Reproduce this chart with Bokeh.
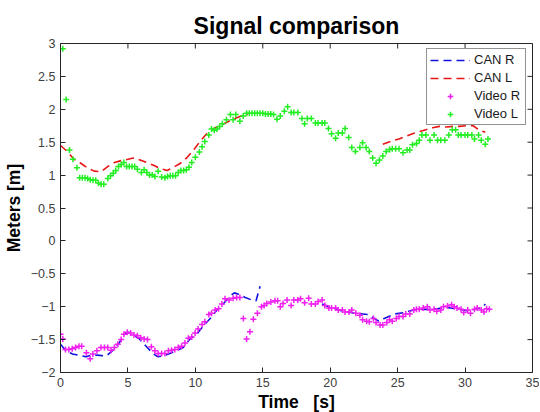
import numpy as np
from bokeh.plotting import figure
from bokeh.models import Range1d, Legend, LegendItem, FixedTicker, Title
from bokeh.embed import file_html
from bokeh.resources import INLINE

nan = float("nan")

# CAN L (red dashed), gap between segments marked by nan
can_l_t = [0.0, 0.5, 1.0, 1.5, 2.0, 2.5, 3.0, 3.5, 4.0, 4.5, 5.0, 5.4, 5.9, 6.4, 6.9, 7.4, 7.9, 8.4, 8.9,
           9.4, 9.9, 10.3, 10.8, 11.3, 11.8, 12.3, 12.8, 13.3, 13.9, nan,
           23.9, 24.6, 25.1, 25.6, 26.1, 26.6, 27.1, 27.6, 28.1, 28.6, 29.1, 29.6, 30.1, 30.6, 31.0, 31.5]
can_l_y = [1.45, 1.36, 1.24, 1.18, 1.11, 1.06, 1.05, 1.13, 1.19, 1.22, 1.24, 1.26, 1.23, 1.19, 1.15, 1.10, 1.07, 1.12, 1.18,
           1.27, 1.39, 1.50, 1.62, 1.70, 1.75, 1.80, 1.85, 1.89, 1.93, nan,
           1.47, 1.52, 1.55, 1.59, 1.63, 1.66, 1.69, 1.72, 1.74, 1.73, 1.74, 1.74, 1.75, 1.75, 1.69, 1.65]

# CAN R (blue dashed)
can_r_t = [0.0, 0.4, 0.9, 1.4, 1.9, 2.4, 2.9, 3.4, 3.9, 4.35, 4.75, 5.0, 5.35, 5.85, 6.35, 6.85, 7.2, 7.6, 8.1,
           8.6, 9.1, 9.6, 10.1, 10.6, 11.1, 11.6, 12.1, 12.6, 12.9, 13.2, 13.7, 14.2, 14.5, 14.8, nan,
           19.4, 20.0, 20.8, 21.8, 22.8, 23.6, 24.0, 24.8, 25.5, 26.2, 27.0, 27.7, 28.6, 29.6, 30.1, 30.8, 31.3, 31.5]
can_r_y = [-1.57, -1.67, -1.72, -1.74, -1.76, -1.73, -1.74, -1.75, -1.66, -1.55, -1.42, -1.39, -1.42, -1.49, -1.60, -1.71, -1.76, -1.75, -1.71,
           -1.67, -1.62, -1.49, -1.42, -1.29, -1.18, -1.05, -0.95, -0.83, -0.79, -0.81, -0.86, -0.90, -0.91, -0.69, nan,
           -0.96, -1.01, -1.06, -1.10, -1.12, -1.22, -1.18, -1.11, -1.09, -1.05, -1.04, -1.04, -1.01, -1.04, -1.06, -1.04, -1.01, -0.96]

# Video L (green markers)
vid_l_t = [0.17, 0.42, 0.67, 0.92, 1.22, 1.42, 1.62, 1.82, 2.01, 2.21, 2.41, 2.61, 2.81, 3.01, 3.21, 3.51, 3.71, 3.91,
           4.10, 4.30, 4.50, 4.70, 4.90, 5.10, 5.30, 5.50, 5.70, 6.00, 6.20, 6.40, 6.60, 6.80, 7.00, 7.24, 7.50, 7.74,
           7.94, 8.14, 8.33, 8.53, 8.73, 8.93, 9.13, 9.33, 9.53, 9.73, 10.0, 10.3, 10.5, 10.7, 11.0, 11.2, 11.4, 11.6,
           11.8, 12.0, 12.3, 12.6, 12.8, 13.0, 13.3, 13.55, 13.8, 14.0, 14.2, 14.4, 14.6, 14.8, 15.0, 15.2, 15.4, 15.6,
           15.8, 16.05, 16.3, 16.6, 16.84, 17.1, 17.3, 17.6, 17.9, 18.1, 18.3, 18.6, 18.9, 19.1, 19.4, 19.6, 19.87,
           20.1, 20.4, 20.6, 20.9, 21.1, 21.37, 21.6, 21.87, 22.2, 22.4, 22.66, 22.9, 23.15, 23.4, 23.65, 23.9, 24.15,
           24.4, 24.6, 24.85, 25.1, 25.4, 25.7, 25.9, 26.1, 26.4, 26.6, 26.8, 27.1, 27.4, 27.7, 27.96, 28.2, 28.5,
           28.8, 29.05, 29.3, 29.5, 29.7, 30.0, 30.2, 30.5, 30.7, 31.0, 31.2, 31.5, 31.7]
vid_l_y = [2.92, 2.15, 1.38, 1.24, 1.11, 0.96, 0.96, 0.96, 0.95, 0.93, 0.92, 0.92, 0.88, 0.86, 0.86, 0.95, 0.99, 1.03,
           1.07, 1.13, 1.16, 1.19, 1.13, 1.13, 1.13, 1.13, 1.09, 1.04, 1.08, 1.04, 1.00, 1.00, 0.98, 1.06, 0.97, 0.96,
           0.98, 0.99, 0.99, 0.99, 1.04, 1.07, 1.07, 1.08, 1.12, 1.19, 1.27, 1.35, 1.43, 1.51, 1.61, 1.70, 1.68, 1.70,
           1.74, 1.78, 1.84, 1.92, 1.84, 1.92, 1.82, 1.90, 1.94, 1.94, 1.94, 1.94, 1.94, 1.94, 1.94, 1.93, 1.93, 1.93,
           1.92, 1.85, 1.90, 1.97, 2.04, 1.95, 1.95, 1.95, 1.86, 1.78, 1.86, 1.86, 1.79, 1.79, 1.79, 1.79, 1.71,
           1.63, 1.56, 1.64, 1.64, 1.71, 1.57, 1.42, 1.36, 1.42, 1.49, 1.42, 1.36, 1.26, 1.18, 1.23, 1.29, 1.36,
           1.39, 1.40, 1.40, 1.40, 1.34, 1.38, 1.38, 1.46, 1.48, 1.53, 1.61, 1.61, 1.53, 1.61, 1.53, 1.53, 1.53,
           1.61, 1.69, 1.69, 1.61, 1.61, 1.61, 1.61, 1.61, 1.55, 1.61, 1.53, 1.47, 1.55]

# Video R (magenta markers)
vid_r_t = [0.0, 0.17, 0.37, 0.62, 0.87, 1.12, 1.37, 1.57, 1.92, 2.2, 2.4, 2.7, 3.0, 3.26, 3.5, 3.76, 4.0, 4.25, 4.5,
           4.7, 4.95, 5.2, 5.45, 5.7, 5.95, 6.2, 6.45, 6.74, 7.0, 7.24, 7.5, 7.74, 8.0, 8.23, 8.48, 8.73, 8.98, 9.23,
           9.48, 9.73, 9.98, 10.2, 10.5, 10.7, 11.0, 11.2, 11.47, 11.72, 11.97, 12.2, 12.5, 12.8, 13.06, 13.3, 13.56,
           13.8, 14.05, 14.3, 14.6, 14.9, 15.1, 15.3, 15.6, 15.9, 16.1, 16.3, 16.5, 16.8, 17.1, 17.3, 17.6, 17.8,
           18.1, 18.4, 18.6, 18.9, 19.1, 19.4, 19.6, 19.9, 20.1, 20.4, 20.6, 20.9, 21.1, 21.4, 21.6, 21.9, 22.2,
           22.4, 22.7, 22.9, 23.2, 23.4, 23.7, 23.9, 24.2, 24.4, 24.6, 24.9, 25.1, 25.4, 25.6, 25.9, 26.2, 26.4,
           26.6, 26.9, 27.2, 27.4, 27.7, 27.9, 28.2, 28.4, 28.7, 29.0, 29.2, 29.4, 29.7, 29.9, 30.2, 30.4, 30.7,
           30.9, 31.2, 31.4, 31.6, 31.8]
vid_r_y = [-1.42, -1.49, -1.65, -1.65, -1.64, -1.62, -1.60, -1.60, -1.70, -1.79, -1.72, -1.67, -1.62, -1.62, -1.62, -1.66, -1.62, -1.57, -1.50,
           -1.42, -1.39, -1.40, -1.43, -1.44, -1.47, -1.49, -1.50, -1.61, -1.67, -1.71, -1.71, -1.71, -1.67, -1.66, -1.65, -1.62, -1.60, -1.55,
           -1.48, -1.46, -1.40, -1.34, -1.27, -1.23, -1.12, -1.10, -1.05, -1.03, -0.96, -0.88, -0.90, -0.87, -0.86, -0.86, -1.18,
           -1.49, -1.38, -1.19, -1.10, -1.00, -0.98, -0.95, -0.93, -0.91, -0.91, -1.00, -0.95, -0.90, -0.98, -0.90, -0.90, -0.88,
           -0.94, -0.87, -0.96, -0.96, -0.92, -0.90, -0.98, -1.02, -1.02, -1.02, -1.05, -1.05, -1.08, -1.08, -1.05, -1.10, -1.13,
           -1.20, -1.22, -1.23, -1.18, -1.24, -1.28, -1.28, -1.24, -1.20, -1.22, -1.18, -1.15, -1.15, -1.11, -1.11, -1.05, -1.04,
           -1.04, -1.02, -1.00, -1.05, -1.04, -1.07, -1.05, -1.00, -0.99, -0.97, -1.00, -1.02, -1.04, -1.09, -1.05, -1.10, -1.04,
           -1.02, -1.05, -1.08, -1.03, -1.04]

x_ticks = [0, 5, 10, 15, 20, 25, 30, 35]
y_ticks = [-2, -1.5, -1, -0.5, 0, 0.5, 1, 1.5, 2, 2.5, 3]
x_min, x_max = 0, 35
y_min, y_max = -2, 3

FONT = "Liberation Sans"
AXC = "#262626"

p = figure(frame_width=472, frame_height=329, output_backend="svg", toolbar_location=None,
           x_range=Range1d(x_min, x_max), y_range=Range1d(y_min, y_max),
           min_border_left=60, min_border_right=7, min_border_top=43, min_border_bottom=40,
           x_axis_label="Time\u00a0\u00a0\u00a0[s]", y_axis_label="Meters [m]")
p.background_fill_color = "white"
p.border_fill_color = "white"
p.outline_line_color = AXC
p.outline_line_width = 1
p.grid.visible = False

p.title = Title(text="Signal comparison", align="center", text_font=FONT,
                text_font_size="23px", text_font_style="bold", text_color="black", standoff=10)

for ax in (p.xaxis[0], p.yaxis[0]):
    ax.axis_label_text_font = FONT
    ax.axis_label_text_font_size = "17.5px"
    ax.axis_label_text_font_style = "bold"
    ax.axis_label_text_color = "black"
    ax.major_label_text_font = FONT
    ax.major_label_text_font_size = "12.5px"
    ax.major_label_text_color = "#404040"
    ax.major_tick_in = 5
    ax.major_tick_out = 0
    ax.minor_tick_line_color = None
    ax.axis_line_color = AXC
    ax.major_tick_line_color = AXC
p.xaxis[0].ticker = FixedTicker(ticks=x_ticks)
p.yaxis[0].ticker = FixedTicker(ticks=y_ticks)
p.xaxis[0].major_label_standoff = 5
p.xaxis[0].axis_label_standoff = 2
p.yaxis[0].major_label_standoff = 5
p.yaxis[0].axis_label_standoff = 4

# inward ticks on the top and right sides of the box (MATLAB "box on")
p.ray(x=x_ticks, y=[y_max] * len(x_ticks), length=5, length_units="screen",
      angle=-np.pi / 2, line_color=AXC, line_width=1)
p.ray(x=[x_max] * len(y_ticks), y=y_ticks, length=5, length_units="screen",
      angle=np.pi, line_color=AXC, line_width=1)

r_canr = p.line(np.array(can_r_t), np.array(can_r_y), line_color="#1010e0", line_width=1.6, line_dash="8 5")
r_canl = p.line(np.array(can_l_t), np.array(can_l_y), line_color="#e81515", line_width=1.6, line_dash="8 5")
r_vidr = p.scatter(vid_r_t, vid_r_y, marker="cross", size=6, line_color="#f020f0", line_width=1.5)
r_vidl = p.scatter(vid_l_t, vid_l_y, marker="cross", size=6, line_color="#22ee22", line_width=1.5)

legend = Legend(items=[LegendItem(label="CAN R", renderers=[r_canr]),
                       LegendItem(label="CAN L", renderers=[r_canl]),
                       LegendItem(label="Video R", renderers=[r_vidr]),
                       LegendItem(label="Video L", renderers=[r_vidl])],
                location=(366, 247), label_text_font=FONT, label_text_font_size="13px",
                label_text_color="#1a1a1a", glyph_width=40, glyph_height=14, label_height=14,
                label_width=48, label_standoff=4, spacing=3, padding=3, margin=0,
                border_line_color=AXC, border_line_width=1, background_fill_alpha=1)
p.add_layout(legend, "center")

open("out.html", "w").write(file_html(p, INLINE))
